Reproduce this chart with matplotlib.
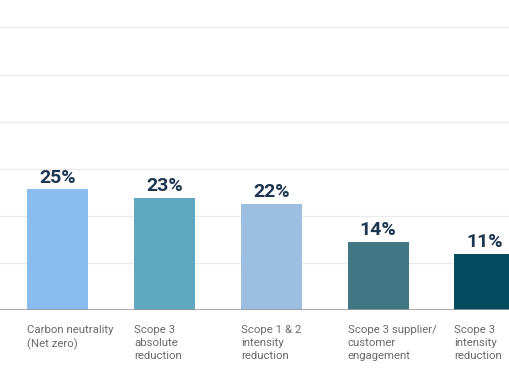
import matplotlib
matplotlib.use("Agg")
import matplotlib.pyplot as plt

categories = ["Carbon neutrality\n(Net zero)", "Scope 3\nabsolute\nreduction",
              "Scope 1 & 2\nintensity\nreduction", "Scope 3 supplier/\ncustomer\nengagement",
              "Scope 3\nintensity\nreduction"]
values = [24.9, 23.1, 22.0, 14.0, 11.6]
labels = ["25%", "23%", "22%", "14%", "11%"]
colors = ["#89BDF0", "#5EA9C1", "#9CBFE1", "#417684", "#054B60"]
grid_values = [9.73, 19.46, 29.19, 38.92, 48.65, 58.38]

plt.rcParams['font.family'] = ['Roboto', 'DejaVu Sans']
fig = plt.figure(figsize=(5.10, 3.82), dpi=100)
ax = fig.add_axes([0, 0.1885, 1, 0.8115])
x = list(range(len(values)))
width = 0.57
ax.bar(x, values, width=width, color=colors, zorder=2)
for xi, v, lab in zip(x, values, labels):
    ax.text(xi, v + 0.6, lab, ha="center", va="bottom", fontsize=14,
            fontweight="bold", color="#1E3550", zorder=3)
for xi, cat in zip(x, categories):
    ax.text(xi - width / 2, -3.0, cat, ha="left", va="top", fontsize=8.2,
            color="#6b6b6b", linespacing=1.42, clip_on=False)
for t in grid_values:
    ax.axhline(t, color="#ebebeb", lw=1, zorder=1)
ax.axhline(0, color="#9a9a9a", lw=1.2, zorder=3)
ax.set_xlim(-0.540, 4.235)
ax.set_ylim(0, 64.05)
ax.set_xticks([])
ax.set_yticks([])
for s in ax.spines.values():
    s.set_visible(False)
fig.savefig("out.png", dpi=100)
